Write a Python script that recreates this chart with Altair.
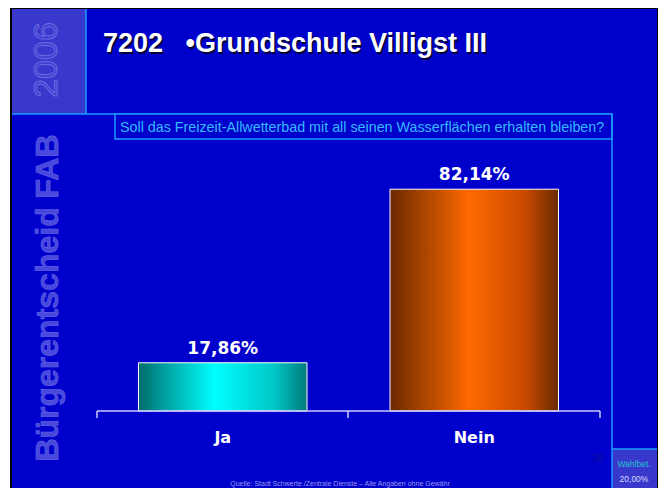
import altair as alt
import pandas as pd

# ---- data ----
categories = ["Ja", "Nein"]
values = [17.86, 82.14]
value_labels = ["17,86%", "82,14%"]

title_text = "7202\u00a0\u00a0 \u2022Grundschule Villigst III"
question = "Soll das Freizeit-Allwetterbad mit all seinen Wasserfl\u00e4chen erhalten bleiben?"
source = "Quelle: Stadt Schwerte /Zentrale Dienste \u2013 Alle Angaben ohne Gew\u00e4hr"
side_text = "B\u00fcrgerentscheid FAB"
year_text = "2006"
turnout_label = "Wahlbet."
turnout_value = "20,00%"
hidden_num = "30"

df = pd.DataFrame({"cat": categories, "val": values, "lab": value_labels})
one = pd.DataFrame({"d": [0]})

W, H = 650, 480
BG = "#0000cc"
PANEL = "#3838cc"
LINE = "#1a9cff"

xs = alt.X("cat:N", axis=None,
           scale=alt.Scale(range=[89, 592], paddingInner=0.33, paddingOuter=0.165))
ys = alt.Y("val:Q", axis=None, scale=alt.Scale(domain=[0, 100], range=[403, 133]))

def rect(x, x2, y, y2, fill, stroke=None, sw=0):
    kw = dict(fill=fill, strokeWidth=sw)
    if stroke:
        kw["stroke"] = stroke
    return alt.Chart(one).mark_rect(**kw).encode(
        x=alt.value(x), x2=alt.value(x2), y=alt.value(y), y2=alt.value(y2))

def hline(x, x2, y, color, sw=1.5):
    return alt.Chart(one).mark_rule(color=color, strokeWidth=sw).encode(
        x=alt.value(x), x2=alt.value(x2), y=alt.value(y))

def vline(x, y, y2, color, sw=1.5):
    return alt.Chart(one).mark_rule(color=color, strokeWidth=sw).encode(
        x=alt.value(x), y=alt.value(y), y2=alt.value(y2))

def txt(s, x, y, **kw):
    return alt.Chart(pd.DataFrame({"t": [s]})).mark_text(**kw).encode(
        x=alt.value(x), y=alt.value(y), text="t:N")

frame = rect(2, 651, 0, H, "black")
slide = rect(4, 649, 1, H, BG)
left_top = rect(4, 78, 1, 106, PANEL)
right_box = rect(604, 649, 441, H, PANEL)
l1 = vline(78, 1, 106, LINE)
l2 = hline(4, 604, 106, LINE)
qbox = rect(107, 604, 106, 131, BG, LINE, 1.5)
l3 = vline(604, 106, H, LINE)
l4 = hline(604, 649, 441, LINE)

title_shadow = txt(title_text, 96.5, 45.5, font="Liberation Sans", fontWeight="bold",
                   fontSize=27, color="#000033", align="left", baseline="alphabetic")
title = txt(title_text, 95, 44, font="Liberation Sans", fontWeight="bold",
            fontSize=27, color="white", align="left", baseline="alphabetic")

year = txt(year_text, 39, 52, font="Liberation Sans", fontSize=34, angle=270,
           fill="#4040d0", stroke="#6a6ae4", strokeWidth=1, align="center", baseline="middle")
side = txt(side_text, 40, 290, font="Liberation Sans", fontWeight="bold", fontSize=32,
           angle=270, fill="#4848dc", stroke="#6262e8", strokeWidth=0.6,
           align="center", baseline="middle")

q = txt(question, 112, 124, font="Liberation Sans", fontSize=14.3, color="#33bbff",
        align="left", baseline="alphabetic")

ja_grad = {"gradient": "linear", "x1": 0, "x2": 1, "y1": 0, "y2": 0, "stops": [
    {"color": "#006c6c", "offset": 0},
    {"color": "#00ffff", "offset": 0.45},
    {"color": "#00c8c8", "offset": 0.8},
    {"color": "#007a7a", "offset": 1}]}
nein_grad = {"gradient": "linear", "x1": 0, "x2": 1, "y1": 0, "y2": 0, "stops": [
    {"color": "#6a2800", "offset": 0},
    {"color": "#ff6a00", "offset": 0.47},
    {"color": "#c84a00", "offset": 0.8},
    {"color": "#6a2a00", "offset": 1}]}

bar_ja = alt.Chart(df).transform_filter(alt.datum.cat == "Ja").mark_bar(
    fill=ja_grad, stroke="white", strokeWidth=1).encode(x=xs, y=ys)
bar_nein = alt.Chart(df).transform_filter(alt.datum.cat == "Nein").mark_bar(
    fill=nein_grad, stroke="white", strokeWidth=1).encode(x=xs, y=ys)

bar_labels = alt.Chart(df).mark_text(font="DejaVu Sans", fontWeight="bold", fontSize=17,
                                     color="white", dy=-9, baseline="alphabetic").encode(
    x=xs, y=ys, text="lab:N")

baseline_rule = hline(89, 592, 403, "#c8c8ff", 1.5)
ticks = [vline(xv, 403, 410, "white", 1.2) for xv in (89, 340, 592)]

cat_labels = alt.Chart(df).mark_text(font="DejaVu Sans", fontWeight="bold", fontSize=16,
                                     color="white", baseline="alphabetic").encode(
    x=xs, y=alt.value(435), text="cat:N")

src = txt(source, 332, 478, font="Liberation Sans", fontSize=7, color="#9a9af0",
          align="center", baseline="alphabetic")
wb = txt(turnout_label, 626, 459, font="Liberation Sans", fontSize=8.5, color="#22c4cc",
         align="center", baseline="alphabetic")
wv = txt(turnout_value, 626, 474, font="Liberation Sans", fontSize=8.5, color="#d8d8ff",
         align="center", baseline="alphabetic")
hid = txt(hidden_num, 590, 454, font="Liberation Sans", fontWeight="bold", fontSize=10,
          color="#0c0ca8", align="center", baseline="alphabetic")

chart = alt.layer(
    frame, slide, left_top, right_box, l1, l2, qbox, l3, l4,
    title_shadow, title, year, side, q,
    bar_ja, bar_nein, baseline_rule, *ticks, bar_labels, cat_labels,
    src, wb, wv, hid,
).properties(width=W, height=H, padding=0, background="white",
             autosize=alt.AutoSizeParams(type="none")).configure_view(strokeWidth=0)

chart.save("out.html", embed_options={"renderer": "svg", "actions": False})
